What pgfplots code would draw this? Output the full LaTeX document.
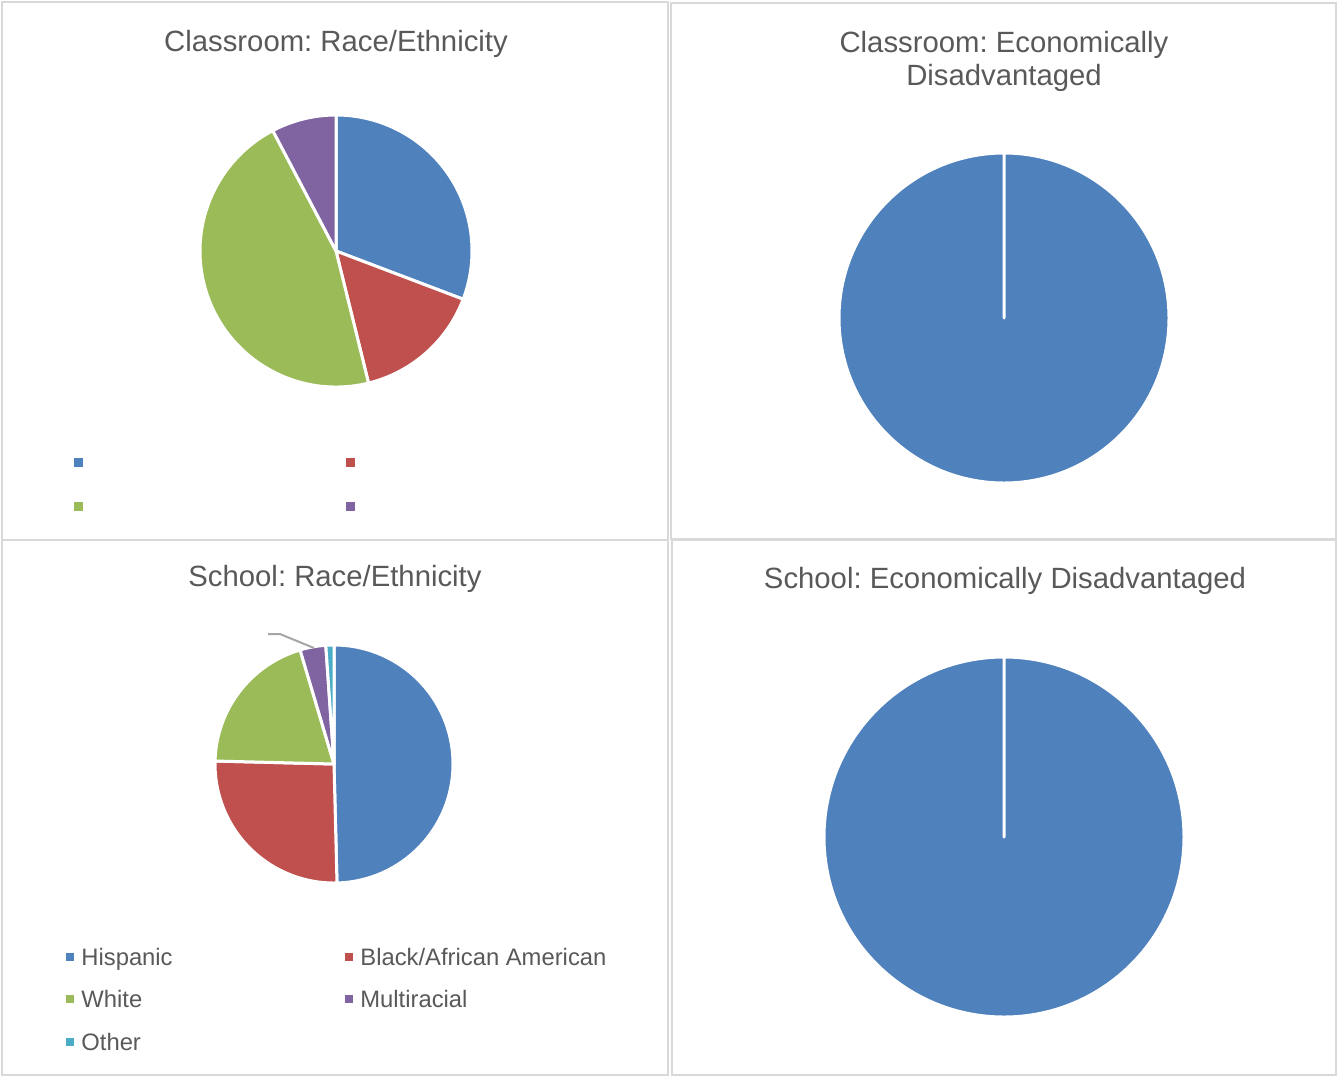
\documentclass[border=0pt]{standalone}
\usepackage{fontspec}
\setmainfont{Liberation Sans}
\usepackage{pgfplots}
\pgfplotsset{compat=1.18}
\frenchspacing

\definecolor{exblue}{HTML}{4F81BD}
\definecolor{exred}{HTML}{C0504D}
\definecolor{exgreen}{HTML}{9BBB59}
\definecolor{expurple}{HTML}{8064A2}
\definecolor{exaqua}{HTML}{4BACC6}
\definecolor{txt}{HTML}{595959}
\definecolor{panelframe}{HTML}{D9D9D9}
\definecolor{leader}{HTML}{A6A6A6}

% slice values, clockwise from 12 o'clock
\def\classrace{4/exblue, 2/exred, 6/exgreen, 1/expurple}
\def\classecon{100/exblue}
\def\schoolrace{49.6/exblue, 25.8/exred, 20.0/exgreen, 3.5/expurple, 1.1/exaqua}
\def\schoolecon{100/exblue}

\newcommand\titlefont{\fontsize{14.65}{16.5}\selectfont}
\newcommand\legfont{\fontsize{11.9}{14}\selectfont}

% #1,#2 centre (axis cs), #3 radius, #4 list value/colour
\newcommand\drawpie[4]{%
  \gdef\pietotal{0}%
  \foreach \v/\col in #4 {\pgfmathparse{\pietotal+\v}\xdef\pietotal{\pgfmathresult}}%
  \gdef\pieacc{0}%
  \foreach \v/\col in #4 {%
    \pgfmathsetmacro\aone{90-360*(\pieacc/\pietotal)}%
    \pgfmathparse{\pieacc+\v}\xdef\pieacc{\pgfmathresult}%
    \pgfmathsetmacro\atwo{90-360*(\pieacc/\pietotal)}%
    \edef\tmp{\noexpand\filldraw[fill=\col, draw=white, line width=1.5pt,
      line join=round, line cap=round] (axis cs:#1,#2) -- ++(\aone:#3)
      arc[start angle=\aone, end angle=\atwo, radius=#3] -- cycle;}%
    \tmp}%
}

\pgfplotsset{panel/.style={x=0.5pt, y=0.5pt, y dir=reverse, axis lines=box,
    xtick=\empty, ytick=\empty, enlargelimits=false, clip=false,
    axis line style={draw=panelframe, line width=0.9pt}, anchor=south west}}

\begin{document}
\begin{tikzpicture}
\useasboundingbox (0,0) rectangle (669pt,-538pt);

% classroom race
\begin{axis}[panel, at={(1pt,-270pt)}, xmin=2, xmax=668, ymin=2, ymax=540]
  \node[font=\titlefont, text=txt, anchor=base] at (axis cs:336,51) {Classroom: Race/Ethnicity};
  \drawpie{336}{251}{68pt}{\classrace}
  \node[fill=exblue, minimum size=4.5pt, inner sep=0pt] at (axis cs:78,462) {};
  \node[fill=exred, minimum size=4.5pt, inner sep=0pt] at (axis cs:350,462) {};
  \node[fill=exgreen, minimum size=4.5pt, inner sep=0pt] at (axis cs:78,506) {};
  \node[fill=expurple, minimum size=4.5pt, inner sep=0pt] at (axis cs:350,506) {};
\end{axis}

% classroom economically disadvantaged
\begin{axis}[panel, at={(335.5pt,-269.5pt)}, xmin=671, xmax=1336, ymin=3, ymax=539]
  \node[font=\titlefont, text=txt, anchor=base] at (axis cs:1004,52.5) {Classroom: Economically};
  \node[font=\titlefont, text=txt, anchor=base] at (axis cs:1004,85.5) {Disadvantaged};
  \drawpie{1004}{318}{82.5pt}{\classecon}
\end{axis}

% school race
\begin{axis}[panel, at={(1pt,-537.5pt)}, xmin=2, xmax=668, ymin=540, ymax=1075]
  \node[font=\titlefont, text=txt, anchor=base] at (axis cs:335,586.5) {School: Race/Ethnicity};
  \drawpie{334}{764}{59.5pt}{\schoolrace}
  \draw[leader, line width=1pt] (axis cs:268,634) -- (axis cs:280,634) -- (axis cs:314,648);
  \node[fill=exblue, minimum size=3.8pt, inner sep=0pt] at (axis cs:70,957) {};
  \node[font=\legfont, text=txt, anchor=base west, inner sep=0pt] at (axis cs:81,965.5) {Hispanic};
  \node[fill=exred, minimum size=3.8pt, inner sep=0pt] at (axis cs:349,957) {};
  \node[font=\legfont, text=txt, anchor=base west, inner sep=0pt] at (axis cs:360,965.5) {Black/African American};
  \node[fill=exgreen, minimum size=3.8pt, inner sep=0pt] at (axis cs:70,999) {};
  \node[font=\legfont, text=txt, anchor=base west, inner sep=0pt] at (axis cs:81,1007.5) {White};
  \node[fill=expurple, minimum size=3.8pt, inner sep=0pt] at (axis cs:349,999) {};
  \node[font=\legfont, text=txt, anchor=base west, inner sep=0pt] at (axis cs:360,1007.5) {Multiracial};
  \node[fill=exaqua, minimum size=3.8pt, inner sep=0pt] at (axis cs:70,1042) {};
  \node[font=\legfont, text=txt, anchor=base west, inner sep=0pt] at (axis cs:81,1050.5) {Other};
\end{axis}

% school economically disadvantaged
\begin{axis}[panel, at={(336pt,-537.5pt)}, xmin=672, xmax=1336, ymin=540, ymax=1075]
  \node[font=\titlefont, text=txt, anchor=base] at (axis cs:1005,588.5) {School: Economically Disadvantaged};
  \drawpie{1004}{837}{90pt}{\schoolecon}
\end{axis}
\end{tikzpicture}
\end{document}
